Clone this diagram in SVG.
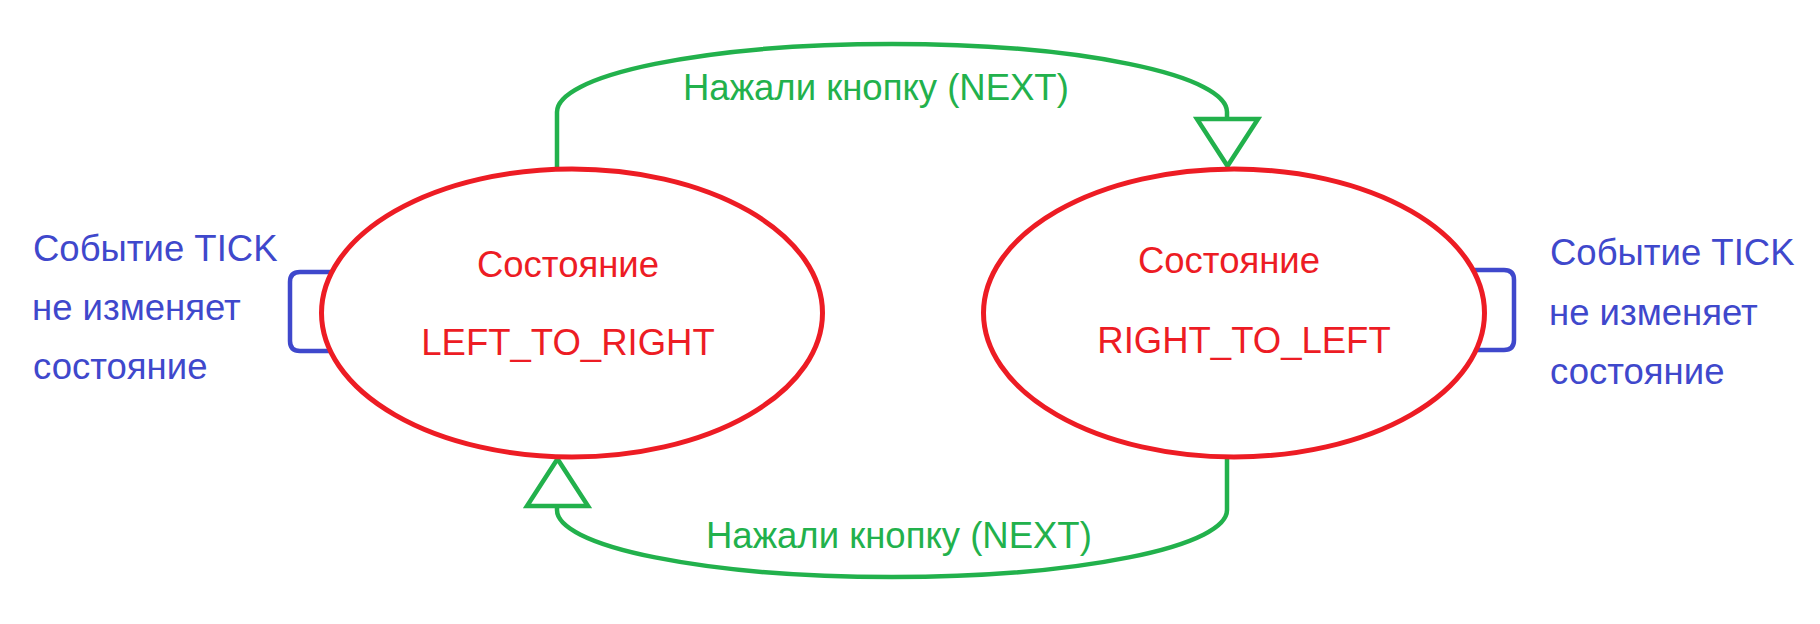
<svg xmlns="http://www.w3.org/2000/svg" width="1820" height="624" viewBox="0 0 1820 624">
<style>
text{font-family:"Liberation Sans",Arial,sans-serif;font-size:36.5px}
.st{fill:none;stroke:#ED1C24;stroke-width:5}
.stt{fill:#ED1C24;text-anchor:middle}
.ev{fill:#3F48CC}
.loop{fill:none;stroke:#3F48CC;stroke-width:4.5}
.tr{fill:none;stroke:#22B14C;stroke-width:4.5;stroke-linejoin:miter}
.trt{fill:#22B14C}
</style>
<rect width="1820" height="624" fill="#fff"/>
<g id="connectors">
  <path class="loop" d="M332,272 H300 Q290,272 290,282 V341 Q290,351 300,351 H331"/>
  <path class="loop" d="M1474,270 H1504 Q1514,270 1514,280 V340 Q1514,350 1504,350 H1475"/>
  <path class="tr" d="M557,169 V112 A335,68 0 0 1 1227,112 V119"/>
  <polygon class="tr" points="1197,119 1258,119 1227.5,166"/>
  <path class="tr" d="M1227,457 V510 A335,67 0 0 1 557,510 V506"/>
  <polygon class="tr" points="527,506 588,506 557.5,459"/>
  <text class="trt" x="683" y="100">Нажали кнопку (NEXT)</text>
  <text class="trt" x="706" y="548">Нажали кнопку (NEXT)</text>
  <text class="ev" x="33" y="261">Событие TICK</text>
  <text class="ev" x="32" y="320">не изменяет</text>
  <text class="ev" x="33" y="379">состояние</text>
  <text class="ev" x="1550" y="265">Событие TICK</text>
  <text class="ev" x="1549" y="325">не изменяет</text>
  <text class="ev" x="1550" y="384">состояние</text>
</g>
<g id="state-left">
  <ellipse class="st" cx="572" cy="313" rx="250.5" ry="144"/>
  <text class="stt" x="568" y="277">Состояние</text>
  <text class="stt" x="568" y="355">LEFT_TO_RIGHT</text>
</g>
<g id="state-right">
  <ellipse class="st" cx="1234" cy="313" rx="250.5" ry="144"/>
  <text class="stt" x="1229" y="273">Состояние</text>
  <text class="stt" x="1244" y="353">RIGHT_TO_LEFT</text>
</g>
</svg>
